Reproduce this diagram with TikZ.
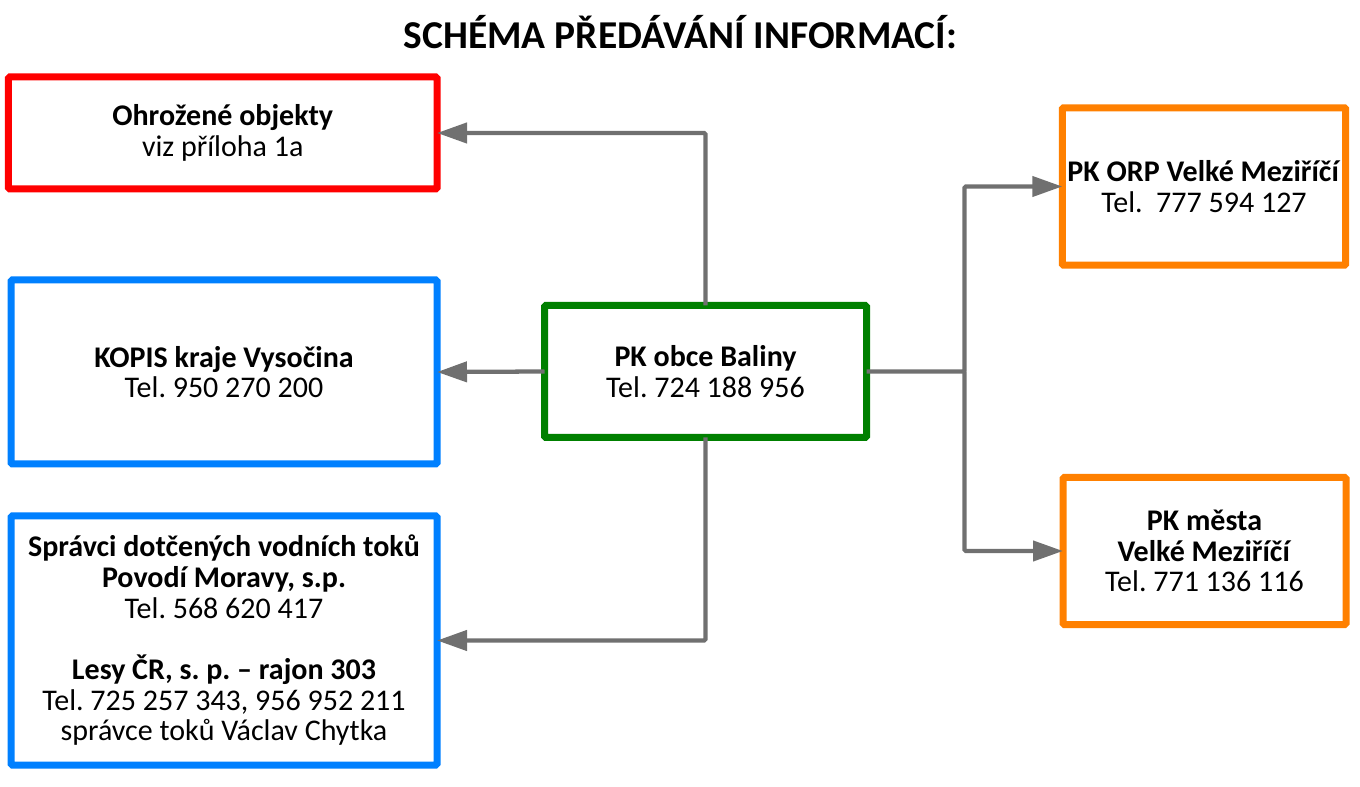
\documentclass[tikz,border=0pt]{standalone}
\usepackage{fontspec}
\setmainfont{Carlito}
\usetikzlibrary{arrows.meta}
\definecolor{boxred}{RGB}{255,0,0}
\definecolor{boxblue}{RGB}{0,128,255}
\definecolor{boxgreen}{RGB}{0,128,0}
\definecolor{boxorange}{RGB}{255,128,0}
\definecolor{linkgray}{RGB}{112,112,112}
\frenchspacing

\begin{document}
\begin{tikzpicture}[x=0.75pt,y=-0.75pt,
		infobox/.style={draw,line width=5.25pt,rounded corners=1pt,inner sep=0pt,outer sep=0pt,
			align=center,font=\fontsize{22.5}{23}\selectfont},
		link/.style={draw=linkgray,line width=3.2pt,rounded corners=1pt,
			-{Triangle[length=22.5pt,width=15pt]}}]
				% page size
				\useasboundingbox (0,0) rectangle (1360,787);
				
				% title
				\node[anchor=base,font=\fontsize{29.6}{30}\selectfont\bfseries] (title) at (680.5,49) {SCHÉMA PŘEDÁVÁNÍ INFORMACÍ:};
				
				% boxes on the left
				\node[infobox,draw=boxred,minimum width=321.4pt,minimum height=84pt] (objekty) at (222.75,133)
					{\textbf{Ohrožené objekty}\\viz příloha 1a};
				\node[infobox,draw=boxblue,minimum width=319.5pt,minimum height=138pt] (kopis) at (224,372)
					{\textbf{KOPIS kraje Vysočina}\\Tel. 950 270 200};
				\node[infobox,draw=boxblue,minimum width=319.5pt,minimum height=186.75pt] (spravci) at (224,640.5)
					{\textbf{Správci dotčených vodních toků}\\\textbf{Povodí Moravy, s.p.}\\Tel. 568 620 417\\[23pt]
					 \textbf{Lesy ČR, s. p. – rajon 303}\\Tel. 725 257 343, 956 952 211\\správce toků Václav Chytka};
				
				% middle box
				\node[infobox,draw=boxgreen,minimum width=241.5pt,minimum height=99pt] (obec) at (705.5,371.5)
					{\textbf{PK obce Baliny}\\Tel. 724 188 956};
				
				% boxes on the right
				\node[infobox,draw=boxorange,minimum width=212.6pt,minimum height=118.1pt] (orp) at (1204,186.5)
					{\textbf{PK ORP Velké Meziříčí}\\Tel.\ \ 777 594 127};
				\node[infobox,draw=boxorange,minimum width=212.25pt,minimum height=110.25pt] (mesto) at (1204.5,551)
					{\textbf{PK města}\\\textbf{Velké Meziříčí}\\Tel. 771 136 116};
				
				% arrows
				\coordinate (split) at (964.5,371.5);
				\draw[link] (obec.north) |- (objekty.east);
				\draw[link] (obec.west) -- (kopis.east);
				\draw[link] (obec.south) |- (spravci.east);
				\draw[link] (obec.east) -- (split) |- (orp.west);
				\draw[link] (split) |- (mesto.west);
				
\end{tikzpicture}
\end{document}
